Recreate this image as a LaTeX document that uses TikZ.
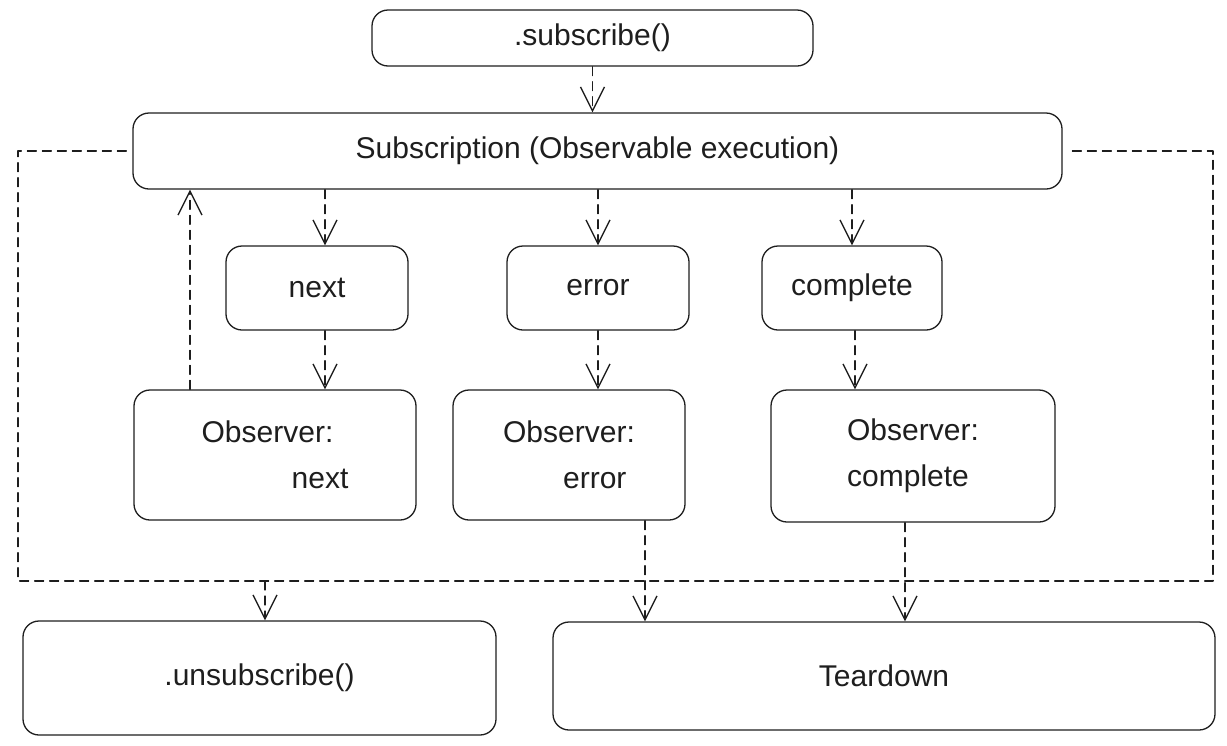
\documentclass[tikz,border=0pt]{standalone}
\usepackage{fontspec}
\setmainfont{Liberation Sans}
\usetikzlibrary{arrows.meta}
\definecolor{ink}{HTML}{1E1E1E}

\begin{document}
\begin{tikzpicture}[x=1pt,y=-1pt,line cap=round,line join=round,
    box/.style={draw=ink,line width=1.3pt,rounded corners=16pt,fill=white,inner sep=0pt,
        text=ink,font=\fontsize{30}{46}\selectfont},
    loop/.style={draw=ink,line width=1.2pt,dash pattern=on 9pt off 6pt},
    flow/.style={loop,-{Straight Barb[length=24pt,width=24pt,line width=1.3pt]}}]
    \useasboundingbox (0,0) rectangle (1227,745);
    %boxes
    \node[box,minimum width=441pt,minimum height=56pt] (subscribe) at (592.5,38) {.subscribe()};
    \node[box,minimum width=929pt,minimum height=76pt] (subscription) at (597.5,151) {Subscription (Observable execution)};
    \node[box,minimum width=182pt,minimum height=84pt] (next) at (317,288) {next};
    \node[box,minimum width=182pt,minimum height=84pt] (error) at (598,288) {error};
    \node[box,minimum width=180pt,minimum height=84pt] (complete) at (852,288) {complete};
    \node[box,minimum width=282pt,minimum height=130pt,align=left] (obsnext) at (275,455) {Observer:\\\hspace*{3em}next};
    \node[box,minimum width=232pt,minimum height=130pt,align=left] (obserror) at (569,455) {Observer:\\\hspace*{2em}error};
    \node[box,minimum width=284pt,minimum height=132pt,align=left] (obscomplete) at (913,456) {Observer:\\complete};
    \node[box,minimum width=473pt,minimum height=114pt] (unsub) at (259.5,678) {.unsubscribe()};
    \node[box,minimum width=662pt,minimum height=108pt] (teardown) at (884,676) {Teardown};
    %loop round the subscription
    \coordinate (lt) at (18,151);
    \coordinate (lb) at (18,581);
    \coordinate (rb) at (1213,581);
    \coordinate (rt) at (1213,151);
    \coordinate (cut) at (265,581);
    \draw[loop] ([xshift=-6pt]subscription.west) -- (lt) -- (lb) -- (rb) -- (rt) -- ([xshift=8pt]subscription.east);
    %arrows
    \draw[flow] (subscribe.south) -- (subscribe.south |- subscription.north);
    \draw[flow] ([xshift=8pt]next.north |- subscription.south) -- ([xshift=8pt]next.north);   % sub-next
    \draw[flow] (error.north |- subscription.south) -- (error.north);      % sub-error
    \draw[flow] (complete.north |- subscription.south) -- (complete.north);% sub-complete
    \draw[flow] ([xshift=8pt]next.south) -- ([xshift=8pt]next.south |- obsnext.north);
    \draw[flow] (error.south) -- (error.south |- obserror.north);
    \draw[flow] ([xshift=3pt]complete.south) -- ([xshift=3pt]complete.south |- obscomplete.north);
    \draw[flow] ([xshift=-85pt]obsnext.north) -- ([xshift=-85pt]obsnext.north |- subscription.south);
    \draw[flow] ([xshift=76pt]obserror.south) -- ([xshift=76pt]obserror.south |- teardown.north);
    \draw[flow] ([xshift=-8pt]obscomplete.south) -- ([xshift=-8pt]obscomplete.south |- teardown.north);
    \draw[flow] (cut) -- (cut |- unsub.north);
\end{tikzpicture}
\end{document}
